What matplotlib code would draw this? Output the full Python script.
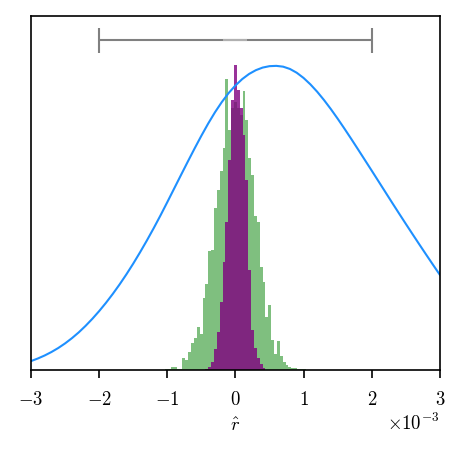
import numpy as np
import matplotlib
matplotlib.use("Agg")
import matplotlib.pyplot as plt

plt.rcParams.update({
    "font.family": "serif",
    "font.serif": ["cmr10"],
    "mathtext.fontset": "cm",
    "axes.formatter.use_mathtext": True,
    "font.size": 13.5,
})

# histogram bins (units of r_hat), shared by both histograms
bin_lo, bin_hi, n_bins = -1.029e-3, 1.029e-3, 49

# wide (green) histogram heights (arbitrary units)
green_counts = [1, 1, 3, 3, 1, 1, 12, 10, 18, 27, 32, 43, 36, 72, 86, 119, 120, 162,
                180, 199, 222, 291, 240, 262, 268, 262, 255, 279, 250, 212, 195, 154,
                148, 103, 88, 53, 65, 30, 16, 29, 14, 8, 5, 3, 2, 2, 1, 1, 1]

# narrow (purple) histogram, bins 14..34 of the same grid
purple_first_bin = 14
purple_counts = [1, 3, 8, 21, 38, 68, 108, 148, 210, 270, 305, 280, 262, 235, 190,
                 100, 40, 22, 12, 6, 2]

# blue curve, heights every 0.1e-3 from -3e-3 to 3e-3
curve_x = np.arange(-30, 31) / 10.0
curve_y = [9, 11.6, 14.6, 18.1, 22.1, 26.7, 31.9, 37.7, 44.2, 51.3,
           59, 67.3, 76.2, 85.7, 95.8, 106.5, 117.8, 129.6, 141.9, 154.7,
           168, 181.5, 195, 208.4, 221.6, 234.4, 246.6, 257.9, 268.1, 277.1,
           284.7, 291.1, 296.2, 300, 302.6, 304, 304.3, 303.5, 301.2, 297.4,
           292.2, 285.8, 278.4, 270.1, 261.1, 251.5, 241.5, 231.2, 220.7, 210.1,
           199.5, 188.8, 178.1, 167.4, 156.8, 146.3, 135.9, 125.6, 115.4, 105.3,
           95.3]

# grey interval at the top
interval_center = 0.0
interval_halfwidth = 2e-3
interval_level = 330

edges = np.linspace(bin_lo, bin_hi, n_bins + 1)
p_edges = edges[purple_first_bin:purple_first_bin + len(purple_counts) + 1]

fig = plt.figure(figsize=(4.63, 4.52), dpi=100)
ax = fig.add_axes([0.067, 0.179, 0.883, 0.783])

ax.hist(edges[:-1], bins=edges, weights=green_counts, color="green", alpha=0.5)
ax.hist(p_edges[:-1], bins=p_edges, weights=purple_counts, color="purple", alpha=0.8)
ax.plot(curve_x * 1e-3, curve_y, color="dodgerblue", lw=1.5)

ax.errorbar(interval_center, interval_level, xerr=interval_halfwidth, fmt="_",
            color="grey", ecolor="grey", mec="#b0b0b0", ms=17, mew=1.5,
            elinewidth=1.5, capsize=9, capthick=1.5)

ax.set_xlim(-3e-3, 3e-3)
ax.set_ylim(0, 354)
ax.set_yticks([])
ax.ticklabel_format(axis="x", style="sci", scilimits=(0, 0))
ax.tick_params(axis="x", length=6, width=1.2, labelsize=13.5, pad=8)
for s in ax.spines.values():
    s.set_linewidth(1.2)
ax.xaxis.get_offset_text().set_fontsize(13.5)
ax.set_xlabel(r"$\hat{r}$", fontsize=13.5, labelpad=6)

plt.savefig("out.png", dpi=100)
